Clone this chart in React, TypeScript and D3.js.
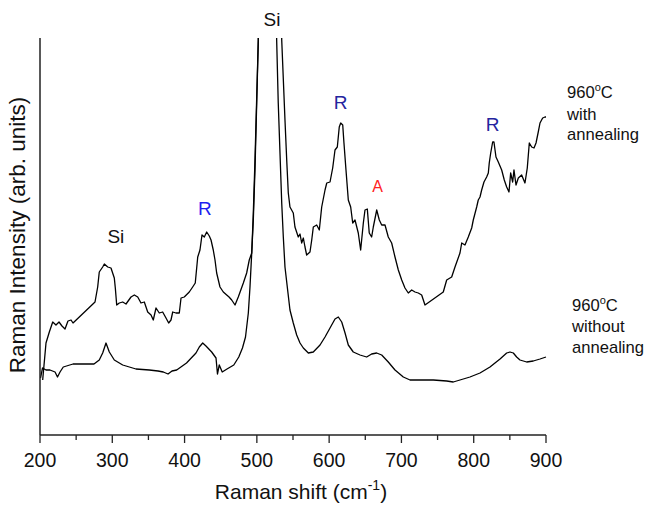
import React from "react";
import * as d3 from "d3";

// Raman shift (cm^-1) vs intensity (arb. units)
const annealedShift = [
  203.7, 208.3, 212.9, 217.6, 222.1, 226.3, 230.4, 234.6, 238.7, 242.9, 245.7, 276.1, 279.8, 282.0, 286.7, 289.0,
  293.7, 298.2, 302.8, 304.2, 306.1, 309.7, 314.4, 319.0, 325.9, 330.5, 335.2, 339.7, 344.3, 349.0, 353.6, 356.7,
  360.5, 365.0, 369.7, 374.3, 378.0, 381.2, 383.6, 388.1, 392.7, 395.1, 399.6, 406.5, 411.2, 414.8, 418.2, 421.3,
  424.1, 427.3, 430.6, 434.2, 436.6, 439.7, 442.1, 444.4, 449.0, 453.6, 458.3, 461.5, 465.2, 469.8, 474.3, 481.3,
  485.9, 489.5, 492.9, 495.1, 497.4, 499.8, 502.0, 520.0, 534.4, 538.9, 541.3, 543.5, 545.8, 550.4, 552.7, 557.3,
  559.7, 562.0, 564.3, 566.6, 568.9, 573.5, 575.9, 578.1, 582.8, 586.4, 589.7, 594.3, 596.7, 601.2, 604.9, 608.1,
  611.3, 614.0, 616.0, 618.8, 620.5, 623.3, 626.5, 629.8, 632.6, 635.8, 640.3, 643.6, 647.3, 649.6, 652.8, 655.5,
  658.8, 661.1, 665.8, 669.4, 672.7, 677.3, 681.8, 686.5, 691.1, 695.7, 700.4, 704.9, 709.5, 714.2, 718.8, 723.3,
  728.0, 732.6, 757.9, 762.6, 769.5, 774.1, 781.0, 783.4, 787.9, 792.5, 797.2, 799.4, 804.1, 806.3, 808.7, 811.0,
  814.2, 817.9, 820.2, 821.5, 823.5, 826.2, 828.0, 830.8, 834.0, 838.7, 842.3, 845.6, 848.8, 851.1, 853.9, 855.7,
  858.5, 861.7, 866.3, 870.9, 874.1, 876.9, 880.2, 883.4, 886.2, 889.3, 891.7, 895.4, 898.6, 900.0,
];
const annealedIntensity = [
  53, 90, 101, 111, 108, 111, 107, 104, 112, 113, 110, 131, 146, 161, 166, 169,
  166, 165, 155, 145, 128, 130, 131, 129, 136, 138, 136, 130, 131, 121, 118, 113,
  125, 120, 121, 115, 110, 113, 121, 120, 120, 135, 136, 141, 146, 150, 176, 183,
  198, 196, 201, 197, 193, 183, 173, 160, 146, 141, 138, 136, 133, 128, 136, 150,
  160, 173, 180, 213, 263, 330, 393, 2000, 393, 313, 273, 240, 226, 220, 206, 196,
  199, 190, 195, 186, 178, 181, 193, 206, 208, 203, 226, 243, 250, 251, 265, 283,
  286, 306, 310, 308, 290, 263, 233, 226, 210, 213, 200, 183, 210, 223, 224, 200,
  196, 206, 223, 213, 208, 208, 196, 190, 176, 163, 153, 145, 140, 143, 141, 140,
  138, 128, 141, 153, 156, 166, 180, 190, 188, 196, 205, 213, 226, 233, 236, 243,
  251, 256, 260, 270, 280, 291, 291, 276, 271, 263, 253, 246, 241, 260, 251, 263,
  248, 255, 258, 250, 265, 290, 286, 285, 290, 301, 310, 315, 316, 316,
];

const asGrownShift = [
  200.7, 203.5, 208.3, 213.8, 220.8, 224.2, 227.7, 232.2, 245.7, 274.7, 282.0, 286.7, 291.3, 295.9, 302.8, 314.4,
  332.8, 351.2, 363.2, 370.6, 377.1, 382.6, 389.1, 402.7, 415.8, 420.4, 425.1, 429.6, 437.5, 443.5, 445.5, 448.0,
  452.1, 458.7, 468.1, 475.0, 480.1, 484.3, 488.2, 490.5, 492.9, 495.1, 497.4, 499.8, 502.0, 520.0, 527.4, 529.6,
  532.0, 534.4, 536.6, 538.9, 542.1, 545.8, 550.4, 555.1, 559.7, 564.3, 571.2, 578.1, 587.4, 594.3, 601.2, 608.1,
  612.7, 617.4, 622.0, 626.5, 633.4, 642.7, 651.9, 658.8, 665.7, 672.7, 681.8, 691.1, 702.6, 711.9, 725.7, 744.1,
  762.6, 771.7, 781.0, 794.8, 808.7, 822.5, 836.4, 845.6, 850.2, 854.8, 859.4, 864.0, 873.3, 882.4, 891.7, 900.0,
];
const asGrownIntensity = [
  55, 65, 63, 63, 61, 56, 61, 66, 69, 69, 73, 80, 90, 81, 73, 68,
  64, 63, 62, 61, 59, 62, 63, 70, 80, 86, 90, 87, 81, 75, 59, 68,
  61, 64, 68, 76, 85, 96, 120, 146, 180, 220, 273, 336, 393, 1500, 393, 330,
  280, 230, 196, 166, 146, 123, 110, 98, 90, 85, 80, 81, 88, 96, 105, 114,
  116, 111, 100, 88, 81, 78, 76, 79, 80, 78, 71, 63, 56, 53, 53, 53,
  52, 51, 53, 56, 60, 66, 74, 80, 81, 80, 76, 73, 71, 72, 74, 76,
];

const xMajorTicks = [200, 300, 400, 500, 600, 700, 800, 900];
const xMinorTicks = [250, 350, 450, 550, 650, 750, 850];

const peakLabels = [
  { text: "Si", shift: 305, level: 190, color: "#111" },
  { text: "R", shift: 428, level: 218, color: "#1f1ff0" },
  { text: "R", shift: 616, level: 324, color: "#24249e" },
  { text: "A", shift: 667, level: 241, color: "#ff2222" },
  { text: "R", shift: 826, level: 302, color: "#24249e" },
];

const W = 648;
const H = 505;
const left = 40;
const right = 546;
const top = 38;
const bottom = 435;
const font = "'Liberation Sans', Arial, Helvetica, sans-serif";

export default function App() {
  const x = d3.scaleLinear().domain([200, 900]).range([left, right]);
  const y = d3.scaleLinear().domain([-2, 395]).range([bottom, top]);
  const line = d3
    .line<[number, number]>()
    .x((d) => x(d[0]))
    .y((d) => y(d[1]));
  const annealed = annealedShift.map((s, i) => [s, annealedIntensity[i]] as [number, number]);
  const asGrown = asGrownShift.map((s, i) => [s, asGrownIntensity[i]] as [number, number]);

  return (
    <svg
      width={W}
      height={H}
      style={{ position: "absolute", left: 0, top: 0, background: "#fff" }}
      fontFamily={font}
    >
      <defs>
        <clipPath id="plotClip">
          <rect x={left} y={top} width={right - left + 2} height={bottom - top} />
        </clipPath>
      </defs>
      <g clipPath="url(#plotClip)" fill="none" stroke="#000" strokeWidth={1.3} strokeLinejoin="round">
        <path d={line(annealed) || ""} />
        <path d={line(asGrown) || ""} />
      </g>
      {/* axes */}
      <line x1={left} x2={left} y1={top} y2={bottom} stroke="#222" strokeWidth={1.5} />
      <line x1={left} x2={right} y1={bottom} y2={bottom} stroke="#222" strokeWidth={1.5} />
      {xMajorTicks.map((t) => (
        <g key={"M" + t}>
          <line x1={x(t)} x2={x(t)} y1={bottom} y2={bottom + 8} stroke="#222" strokeWidth={1.3} />
          <text x={x(t)} y={467} fontSize={19.5} textAnchor="middle" fill="#111">
            {t}
          </text>
        </g>
      ))}
      {xMinorTicks.map((t) => (
        <line key={"m" + t} x1={x(t)} x2={x(t)} y1={bottom} y2={bottom + 5} stroke="#222" strokeWidth={1.3} />
      ))}
      <text x={301} y={499} fontSize={21} textAnchor="middle" fill="#111">
        Raman shift (cm
        <tspan dy={-9} fontSize={14}>
          -1
        </tspan>
        <tspan dy={9}>)</tspan>
      </text>
      <text
        transform={`translate(25, 235) rotate(-90)`}
        fontSize={22.5}
        textAnchor="middle"
        fill="#111"
      >
        Raman Intensity (arb. units)
      </text>
      {/* peak labels */}
      {peakLabels.map((p, i) => (
        <text
          key={i}
          x={x(p.shift)}
          y={y(p.level)}
          fontSize={p.text === "A" ? 16 : 19}
          textAnchor="middle"
          fill={p.color}
        >
          {p.text}
        </text>
      ))}
      <text x={272} y={26} fontSize={19} textAnchor="middle" fill="#111">
        Si
      </text>
      {/* series labels */}
      <g fontSize={16.6} fill="#111">
        <text x={567} y={98}>
          960
          <tspan dy={-7} fontSize={11}>
            o
          </tspan>
          <tspan dy={7}>C</tspan>
        </text>
        <text x={567} y={120}>with</text>
        <text x={567} y={140}>annealing</text>
        <text x={572} y={311}>
          960
          <tspan dy={-7} fontSize={11}>
            o
          </tspan>
          <tspan dy={7}>C</tspan>
        </text>
        <text x={572} y={332}>without</text>
        <text x={572} y={353}>annealing</text>
      </g>
    </svg>
  );
}
